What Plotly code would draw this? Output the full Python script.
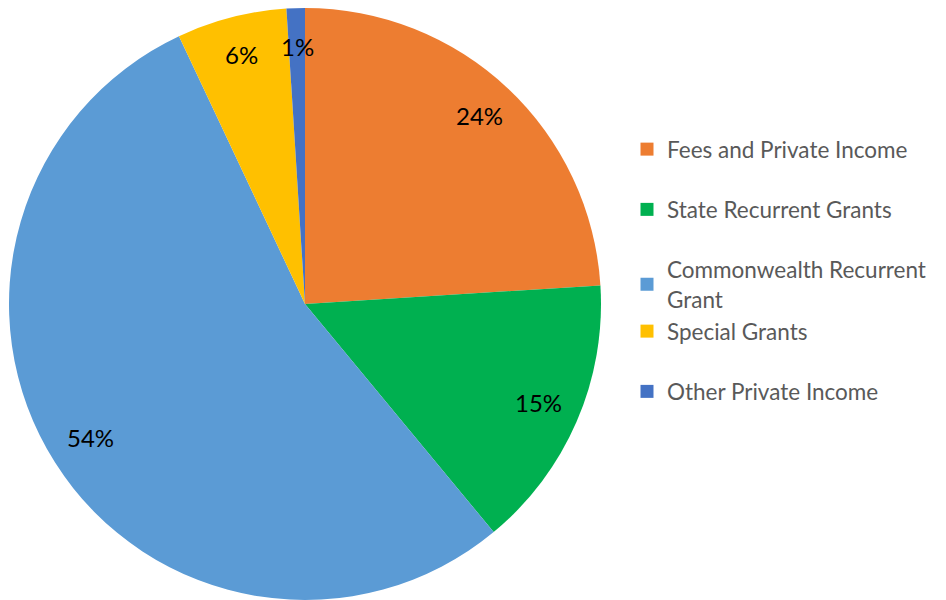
import math
import plotly.graph_objects as go

labels = ["Fees and Private Income", "State Recurrent Grants",
          "Commonwealth Recurrent Grant", "Special Grants", "Other Private Income"]
legend_labels = ["Fees and Private Income", "State Recurrent Grants",
                 "Commonwealth Recurrent<br>Grant", "Special Grants", "Other Private Income"]
values = [24, 15, 54, 6, 1]
colors = ["#ED7D31", "#00B050", "#5B9BD5", "#FFC000", "#4472C4"]
groups = ["g1", "g2", "g3", "g3", "g4"]

W, H = 946, 600
cx, cy, R = 305, 304, 296

fig = go.Figure()
fig.add_trace(go.Pie(
    labels=labels, values=values, sort=False, direction="clockwise", rotation=0,
    marker=dict(colors=colors, line=dict(width=0)),
    textinfo="none", hoverinfo="label+percent", showlegend=False,
    domain=dict(x=[(cx - R) / W, (cx + R) / W], y=[1 - (cy + R) / H, 1 - (cy - R) / H]),
))

for lab, col, grp in zip(legend_labels, colors, groups):
    fig.add_trace(go.Scatter(
        x=[None], y=[None], mode="markers", name=lab, legendgroup=grp,
        marker=dict(symbol="square", size=13, color=col), hoverinfo="skip",
    ))

total = sum(values)
cum = 0
for v in values:
    mid = (cum + v / 2) / total * 2 * math.pi
    cum += v
    rr = R * 0.86
    px = cx + rr * math.sin(mid)
    py = cy - rr * math.cos(mid) - 3
    fig.add_annotation(x=px / W, y=1 - py / H, xref="paper", yref="paper",
                       xanchor="center", yanchor="middle",
                       text=f"{round(v / total * 100)}%", showarrow=False,
                       font=dict(size=24, color="#000000", family="Lato"))

fig.update_layout(
    width=W, height=H, margin=dict(l=0, r=0, t=0, b=0),
    paper_bgcolor="white", plot_bgcolor="white",
    xaxis=dict(visible=False, domain=[0.99, 1]), yaxis=dict(visible=False, domain=[0.99, 1]),
    legend=dict(x=627 / W, y=1 - 128 / H, xanchor="left", yanchor="top",
                traceorder="grouped", tracegroupgap=28,
                font=dict(size=22.5, color="#595959", family="Lato"),
                bgcolor="rgba(0,0,0,0)"),
    showlegend=True,
)

fig.write_html("out.html")
